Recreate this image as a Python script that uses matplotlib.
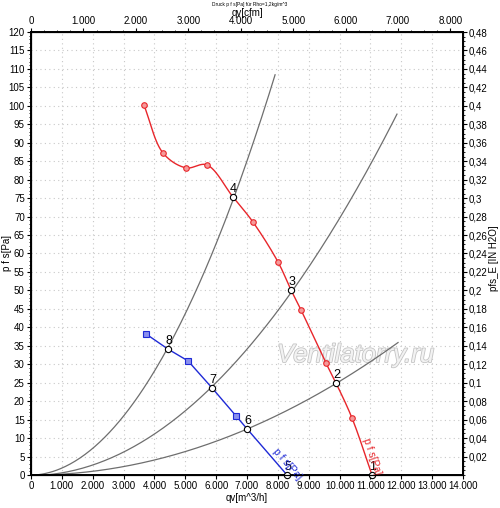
import numpy as np
import matplotlib
matplotlib.use("Agg")
import matplotlib.pyplot as plt
import matplotlib.patheffects as pe
from matplotlib.ticker import MultipleLocator, FuncFormatter

plt.rcParams['font.family'] = ['Liberation Sans', 'DejaVu Sans']

# fan curve (red) markers, q v [m^3/h] / p f s [Pa]
red_q = [3660, 4280, 5020, 5700, 7195, 8005, 8751, 9561, 10404]
red_p = [100.2, 87.2, 83.2, 84.0, 68.5, 57.7, 44.7, 30.3, 15.4]

# fan curve (blue) markers
blue_q = [3727, 5089, 6644]
blue_p = [38.2, 30.9, 16.0]

# operating points 1..8
op_labels = ["1", "2", "3", "4", "5", "6", "7", "8"]
op_q = [11052, 9885, 8427, 6546, 8297, 7001, 5866, 4440]
op_p = [0.0, 24.9, 50.1, 75.3, 0.0, 12.5, 23.6, 34.1]

# system curves, points read along each one
sys_a_q = [0, 2240, 4440, 6546, 7910]
sys_a_p = [0.0, 9.0, 34.1, 75.3, 108.0]
sys_b_q = [0, 3760, 5866, 8427, 11860]
sys_b_p = [0.0, 9.5, 23.6, 50.1, 97.5]
sys_c_q = [0, 4180, 7001, 9885, 11895]
sys_c_p = [0.0, 4.3, 12.5, 24.9, 35.8]

x_ticks = list(range(0, 14001, 1000))
cfm_ticks = list(range(0, 8001, 1000))
M3H_TO_CFM = 0.5886


def catmull_rom(xs, ys, sx, sy, n=30):
    # centripetal catmull-rom, done in scaled coords so it follows the picture
    p = np.column_stack([np.asarray(xs) / sx, np.asarray(ys) / sy])
    p = np.vstack([2 * p[0] - p[1], p, 2 * p[-1] - p[-2]])
    out = []
    for i in range(1, len(p) - 2):
        p0, p1, p2, p3 = p[i - 1], p[i], p[i + 1], p[i + 2]
        t0 = 0.0
        t1 = t0 + np.linalg.norm(p1 - p0) ** 0.5
        t2 = t1 + np.linalg.norm(p2 - p1) ** 0.5
        t3 = t2 + np.linalg.norm(p3 - p2) ** 0.5
        t = np.linspace(t1, t2, n)[:, None]
        a1 = (t1 - t) / (t1 - t0) * p0 + (t - t0) / (t1 - t0) * p1
        a2 = (t2 - t) / (t2 - t1) * p1 + (t - t1) / (t2 - t1) * p2
        a3 = (t3 - t) / (t3 - t2) * p2 + (t - t2) / (t3 - t2) * p3
        b1 = (t2 - t) / (t2 - t0) * a1 + (t - t0) / (t2 - t0) * a2
        b2 = (t3 - t) / (t3 - t1) * a2 + (t - t1) / (t3 - t1) * a3
        c = (t2 - t) / (t2 - t1) * b1 + (t - t1) / (t2 - t1) * b2
        out.append(c)
    out = np.vstack(out)
    return out[:, 0] * sx, out[:, 1] * sy


def thousands(v, pos):
    return f"{int(round(v)):,}".replace(",", ".")


def comma_dec(v, pos):
    s = f"{v:.2f}".rstrip("0").rstrip(".")
    return s.replace(".", ",")


fig = plt.figure(figsize=(5.0, 5.08), dpi=100)
ax = fig.add_axes([0.062, 0.065, 0.864, 0.872])
ax.set_xlim(0, 14000)
ax.set_ylim(0, 120)

# grid
ax.set_xticks(x_ticks)
ax.yaxis.set_major_locator(MultipleLocator(5))
ax.yaxis.set_minor_locator(MultipleLocator(1))
ax.grid(True, color="#c8c8c8", linestyle=(0, (1, 3)), linewidth=0.8)
ax.set_axisbelow(True)

# system curves
for q, p in [(sys_a_q, sys_a_p), (sys_b_q, sys_b_p), (sys_c_q, sys_c_p)]:
    coef = np.polyfit(q, p, 2)
    qq = np.linspace(q[0], q[-1], 200)
    ax.plot(qq, np.polyval(coef, qq), color="#6e6e6e", lw=0.9, zorder=2)

# red fan curve through markers and its operating points
knots = sorted(zip(red_q + op_q[:4], red_p + op_p[:4]))
rx, ry = catmull_rom([k[0] for k in knots], [k[1] for k in knots], 14000, 120)
ax.plot(rx, ry, color="#e8262b", lw=1.0, zorder=3)
ax.plot(red_q, red_p, "o", ms=4, mfc="#f59a9a", mec="#e8262b", mew=0.8, zorder=4)

# blue fan curve
bknots = sorted(zip(blue_q + op_q[4:], blue_p + op_p[4:]))
ax.plot([k[0] for k in bknots], [k[1] for k in bknots], color="#1f2ad6", lw=1.0, zorder=3)
ax.plot(blue_q, blue_p, "s", ms=4, mfc="#8a90ee", mec="#1f2ad6", mew=0.8, zorder=4)

# operating points
ax.plot(op_q, op_p, "o", ms=4.5, mfc="white", mec="black", mew=0.8, zorder=5, clip_on=False)
for lab, q, p in zip(op_labels, op_q, op_p):
    ax.annotate(lab, (q, p), xytext=(0.5, 1.5), textcoords="offset points",
                ha="center", va="bottom", fontsize=9, zorder=6, annotation_clip=False)

# curve names
ax.text(8300, 3.0, "p f s[Pa]", color="#1f2ad6", fontsize=7.5, rotation=-49,
        ha="center", va="center", zorder=6)
ax.text(11060, 5.0, "p f s[Pa]", color="#e8262b", fontsize=7.5, rotation=-71,
        ha="center", va="center", zorder=6)

# watermark
ax.text(10530, 32.5, "Ventilatorry.ru", fontsize=18.5, style="italic", color="#f2f2f2",
        ha="center", va="center", zorder=1,
        path_effects=[pe.withStroke(linewidth=1.2, foreground="#c4c4c4")])

# axes styling
for s in ax.spines.values():
    s.set_linewidth(1.4)
ax.xaxis.set_major_formatter(FuncFormatter(thousands))
ax.tick_params(axis="both", which="major", labelsize=7, length=3, width=0.8, pad=1.5)
ax.tick_params(axis="y", which="minor", length=1.5, width=0.6)
ax.set_xlabel("qv[m^3/h]", fontsize=7, labelpad=1)
ax.set_ylabel("p f s[Pa]", fontsize=7)
ax.yaxis.set_label_coords(-0.043, 0.5)

# right axis in inch water
axr = ax.twinx()
axr.set_ylim(0, 0.48)
axr.set_yticks(np.arange(0.02, 0.4801, 0.02))
axr.yaxis.set_major_formatter(FuncFormatter(comma_dec))
axr.yaxis.set_minor_locator(MultipleLocator(0.005))
axr.tick_params(axis="y", which="major", labelsize=7, length=3, width=0.8, pad=1)
axr.tick_params(axis="y", which="minor", length=1.5, width=0.6)
axr.set_ylabel("pfs_E [IN H2O]", fontsize=7)
axr.yaxis.set_label_coords(1.061, 0.49)

# top axis in cfm
axt = ax.twiny()
axt.set_xlim(0, 14000 * M3H_TO_CFM)
axt.set_xticks(cfm_ticks)
axt.xaxis.set_major_formatter(FuncFormatter(thousands))
axt.xaxis.set_minor_locator(MultipleLocator(250))
axt.tick_params(axis="x", which="major", labelsize=7, length=3, width=0.8, pad=1)
axt.tick_params(axis="x", which="minor", length=1.5, width=0.6)
axt.set_xlabel("qv[cfm]", fontsize=7, labelpad=0.5)

fig.text(0.5, 0.996, "Druck p f s[Pa] für Rho=1,2kg/m^3", fontsize=3.5, ha="center", va="top")

fig.savefig("out.png", dpi=100)
